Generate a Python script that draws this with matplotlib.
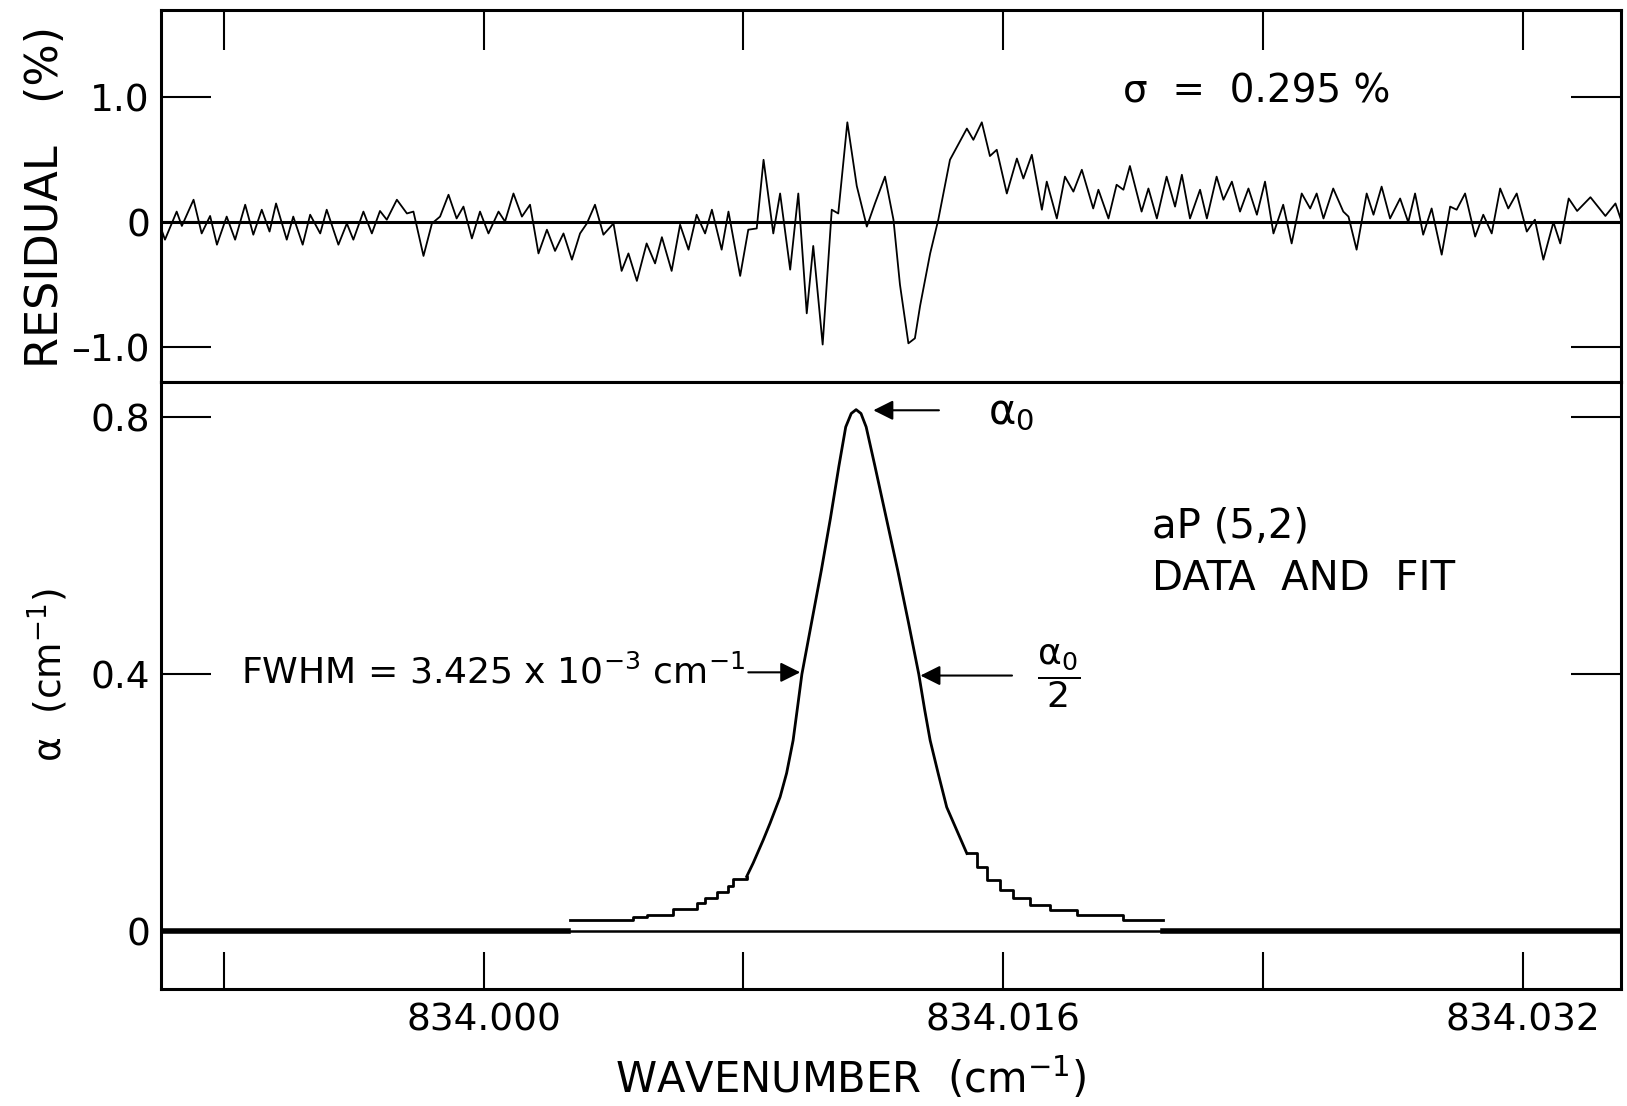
import matplotlib.pyplot as plt
import numpy as np

# wavenumber offsets are in units of 1e-3 cm^-1 from 834.000
WN0 = 834.000

# residual trace (top panel), percent
res_off = [-9.93, -9.81, -9.45, -9.29, -8.93, -8.68, -8.42, -8.21, -7.91, -7.65,
           -7.34, -7.09, -6.83, -6.59, -6.39, -6.06, -5.86, -5.57, -5.34, -5.03,
           -4.83, -4.47, -4.21, -4.01, -3.70, -3.44, -3.19, -2.98, -2.67, -2.36,
           -2.16, -1.85, -1.59, -1.34, -1.08, -0.83, -0.62, -0.36, -0.11, 0.15,
           0.46, 0.66, 0.92, 1.18, 1.43, 1.69, 1.95, 2.20, 2.46, 2.72,
           2.97, 3.18, 3.43, 3.69, 4.00,
           4.25, 4.46, 4.72, 5.02, 5.28, 5.49, 5.79, 6.05, 6.31, 6.56,
           6.82, 7.03, 7.33, 7.54, 7.90, 8.15, 8.41, 8.62, 8.92, 9.13,
           9.44, 9.69, 9.95, 10.15, 10.44, 10.72, 10.92, 11.20, 11.49, 11.80,
           12.05, 12.36, 12.62, 12.82, 13.08, 13.28, 13.44, 13.75, 14.00, 14.36,
           14.88, 15.08, 15.34, 15.59, 15.80, 16.11, 16.42, 16.62, 16.88, 17.19,
           17.34, 17.65, 17.90, 18.16, 18.42,
           18.77, 18.93, 19.24, 19.49, 19.70, 19.90, 20.26, 20.47, 20.73, 21.03,
           21.29, 21.50, 21.75, 22.06, 22.27, 22.57, 22.78, 23.04, 23.29, 23.55,
           23.81, 24.06, 24.32, 24.62, 24.88, 25.19, 25.45, 25.65, 25.86, 26.16,
           26.47, 26.63, 26.88, 27.19, 27.40, 27.65, 27.91, 28.22, 28.47, 28.68,
           28.93, 29.19, 29.50, 29.76, 29.96, 30.22, 30.53, 30.78, 31.04, 31.30,
           31.55, 31.81, 32.12, 32.37, 32.63, 32.94, 33.15, 33.41, 33.67, 34.08,
           34.54, 34.85, 35.02]
res_val = [-0.05, -0.14, 0.085, -0.03, 0.18, -0.09, 0.05, -0.18, 0.045, -0.14,
           0.14, -0.10, 0.10, -0.075, 0.15, -0.14, 0.045, -0.18, 0.06, -0.09,
           0.10, -0.18, -0.01, -0.14, 0.085, -0.09, 0.09, 0.02, 0.18, 0.07,
           0.085, -0.27, -0.01, 0.045, 0.22, 0.03, 0.125, -0.13, 0.085, -0.09,
           0.085, 0.005, 0.23, 0.045, 0.14, -0.25, -0.06, -0.23, -0.09, -0.30,
           -0.09, -0.01, 0.14, -0.10, -0.01,
           -0.39, -0.25, -0.47, -0.17, -0.33, -0.12, -0.39, -0.02, -0.22, 0.06,
           -0.09, 0.10, -0.22, 0.085, -0.43, -0.06, -0.05, 0.50, -0.09, 0.23,
           -0.38, 0.23, -0.73, -0.19, -0.98, 0.10, 0.07, 0.80, 0.29, -0.035,
           0.15, 0.365, 0.02, -0.50, -0.97, -0.93, -0.67, -0.25, 0.02, 0.50,
           0.75, 0.66, 0.80, 0.53, 0.58, 0.23, 0.51, 0.35, 0.54, 0.10,
           0.325, 0.03, 0.365, 0.245, 0.42,
           0.11, 0.26, 0.03, 0.30, 0.26, 0.45, 0.085, 0.27, 0.03, 0.365,
           0.125, 0.38, 0.03, 0.26, 0.03, 0.365, 0.18, 0.325, 0.085, 0.27,
           0.06, 0.325, -0.09, 0.14, -0.17, 0.23, 0.11, 0.23, 0.03, 0.27,
           0.085, 0.045, -0.22, 0.23, 0.06, 0.285, 0.03, 0.19, 0.0, 0.23,
           -0.10, 0.11, -0.26, 0.125, 0.10, 0.23, -0.115, 0.06, -0.09, 0.27,
           0.11, 0.23, -0.075, 0.02, -0.30, 0.0, -0.17, 0.19, 0.09, 0.2,
           0.05, 0.15, 0.02]

# absorption profile (bottom panel), cm^-1
left_step_off = [2.66, 4.61, 5.03, 5.84, 6.57, 6.82, 7.18, 7.53, 7.68, 8.10]
left_step_val = [0.017, 0.022, 0.025, 0.034, 0.044, 0.051, 0.061, 0.070, 0.082, 0.085]

core_off = [8.10, 8.30, 8.61, 8.82, 9.13, 9.33, 9.53, 9.67, 9.80, 10.10,
            10.40, 10.68, 10.94, 11.15, 11.32, 11.47, 11.62, 11.78, 12.05, 12.40,
            12.75, 13.08, 13.40, 13.58, 13.75, 14.00, 14.26, 14.57, 14.88]
core_val = [0.085, 0.106, 0.142, 0.168, 0.209, 0.246, 0.297, 0.350, 0.400, 0.481,
            0.562, 0.643, 0.724, 0.785, 0.806, 0.812, 0.806, 0.785, 0.724, 0.643,
            0.562, 0.481, 0.400, 0.345, 0.297, 0.245, 0.193, 0.157, 0.121]

right_step_off = [14.88, 15.18, 15.49, 15.90, 16.30, 16.83, 17.44, 18.26, 19.69, 20.93]
right_step_val = [0.121, 0.100, 0.079, 0.064, 0.051, 0.040, 0.033, 0.025, 0.017, 0.017]

# flat wings where data sit on the baseline
wing_left = [-9.93, 2.60]
wing_right = [20.93, 35.02]

major_ticks = [833.992, 834.000, 834.008, 834.016, 834.024, 834.032]
major_labels = ['', '834.000', '', '834.016', '', '834.032']


def wn(off):
    return WN0 + np.array(off) * 1e-3


fig = plt.figure(figsize=(16.27, 11.06), dpi=100)
ax1 = fig.add_axes([0.099, 0.6546, 0.8973, 0.3364])
ax2 = fig.add_axes([0.099, 0.1058, 0.8973, 0.5488])
xlim = (wn(-9.93), wn(35.02))

# --- residual panel
ax1.axhline(0, color='k', lw=2.2)
ax1.plot(wn(res_off), res_val, color='k', lw=1.3)
ax1.set_xlim(*xlim)
ax1.set_ylim(-1.28, 1.70)
ax1.set_xticks(major_ticks)
ax1.xaxis.set_ticks_position('top')
ax1.tick_params(axis='x', direction='in', length=29, width=1.5,
                labeltop=False, labelbottom=False)
ax1.set_yticks([-1.0, 0.0, 1.0])
ax1.set_yticklabels(['\u20131.0', '0', '1.0'])
ax1.tick_params(axis='y', direction='in', length=36, width=1.5,
                left=True, right=True, labelsize=27, pad=8)
ax1.text(wn(23.81), 1.05, '\u03c3  =  0.295 %', fontsize=28,
         ha='center', va='center')

# --- profile panel
ax2.axhline(0, color='k', lw=1.8)
ax2.plot(wn(wing_left), [0, 0], color='k', lw=4)
ax2.plot(wn(wing_right), [0, 0], color='k', lw=4)
ax2.step(wn(left_step_off), left_step_val, where='post', color='k', lw=2)
ax2.plot(wn(core_off), core_val, color='k', lw=2)
ax2.step(wn(right_step_off), right_step_val, where='post', color='k', lw=2)
ax2.set_xlim(*xlim)
ax2.set_ylim(-0.090, 0.855)
ax2.set_xticks(major_ticks)
ax2.set_xticklabels(major_labels)
ax2.xaxis.set_ticks_position('bottom')
ax2.tick_params(axis='x', direction='in', length=27, width=1.5,
                labelsize=27, pad=10)
ax2.set_yticks([0.0, 0.4, 0.8])
ax2.set_yticklabels(['0', '0.4', '0.8'])
ax2.tick_params(axis='y', direction='in', length=36, width=1.5,
                left=True, right=True, labelsize=27, pad=8)

arrow = dict(arrowstyle='-|>', color='k', lw=1.5, mutation_scale=30,
             shrinkA=0, shrinkB=0)
ax2.annotate('', xy=(wn(12.0), 0.811), xytext=(wn(14.02), 0.811),
             arrowprops=arrow)
ax2.text(wn(16.25), 0.808, r'$\mathrm{\alpha}_0$', fontsize=30,
         ha='center', va='center')

ax2.text(wn(8.05), 0.403, r'FWHM = 3.425 x 10$^{-3}$ cm$^{-1}$', fontsize=26,
         ha='right', va='center')
ax2.annotate('', xy=(wn(9.75), 0.403), xytext=(wn(8.15), 0.403),
             arrowprops=arrow)

ax2.annotate('', xy=(wn(13.45), 0.398), xytext=(wn(16.27), 0.398),
             arrowprops=arrow)
ax2.text(wn(17.70), 0.398, r'$\dfrac{\mathrm{\alpha}_0}{2}$', fontsize=26,
         ha='center', va='center')

ax2.text(wn(20.58), 0.630, 'aP (5,2)', fontsize=29, ha='left', va='center')
ax2.text(wn(20.58), 0.549, 'DATA  AND  FIT', fontsize=29, ha='left', va='center')

for ax in (ax1, ax2):
    for s in ax.spines.values():
        s.set_linewidth(2.2)

fig.text(0.0280, 0.822, 'RESIDUAL   (%)', fontsize=32, rotation=90,
         ha='center', va='center')
fig.text(0.0290, 0.390, '\u03b1  (cm$^{-1}$)', fontsize=27, rotation=90,
         ha='center', va='center')
fig.text(0.523, 0.0244, r'WAVENUMBER  (cm$^{-1}$)', fontsize=30,
         ha='center', va='center')

fig.savefig('out.png', dpi=100)
